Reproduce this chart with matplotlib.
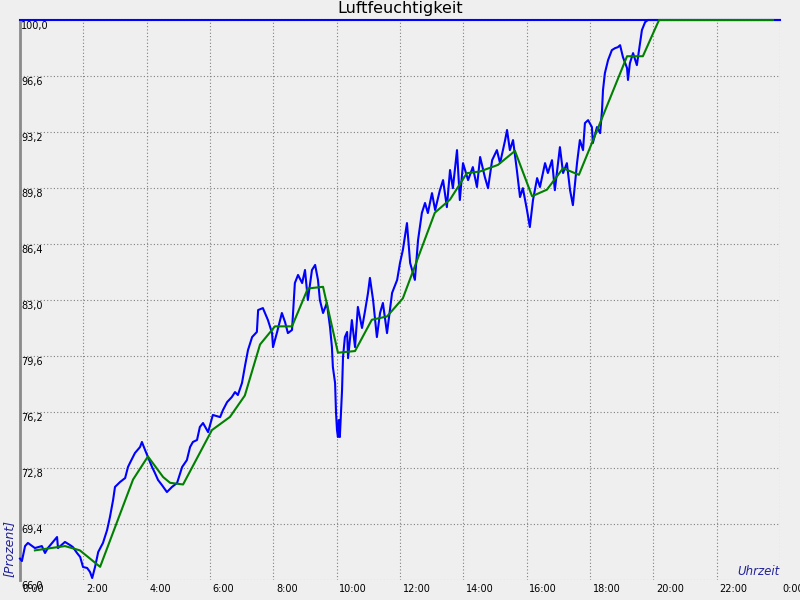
import matplotlib
matplotlib.use('Agg')
import matplotlib.pyplot as plt

# --- Data (hours since midnight, relative humidity in %) ---
blue_t = [0.00, 0.06, 0.16, 0.25, 0.47, 0.69, 0.79, 0.88, 1.17, 1.20, 1.42, 1.58, 1.67, 1.80, 1.90,
          1.99, 2.12, 2.21, 2.28, 2.37, 2.47, 2.62, 2.75, 2.84, 2.94, 3.00, 3.16, 3.32, 3.41, 3.47,
          3.63, 3.79, 3.85, 3.95, 4.04, 4.17, 4.26, 4.36, 4.48, 4.64, 4.80, 4.96, 5.12, 5.27, 5.37,
          5.46, 5.59, 5.68, 5.78, 5.94, 6.09, 6.32, 6.41, 6.54, 6.69, 6.79, 6.88, 7.01, 7.11, 7.20,
          7.33, 7.48, 7.52, 7.67, 7.83, 7.96, 7.99, 8.12, 8.27, 8.37, 8.46, 8.59, 8.68, 8.78, 8.91,
          9.00, 9.09, 9.22, 9.32, 9.41, 9.47, 9.57, 9.69, 9.79, 9.85, 9.88, 9.95, 9.98, 10.01, 10.04,
          10.07, 10.10, 10.17, 10.20, 10.26, 10.33, 10.36, 10.48, 10.58, 10.67, 10.80, 10.89, 10.99,
          11.05, 11.15, 11.27, 11.37, 11.46, 11.59, 11.75, 11.91, 12.00, 12.09, 12.22, 12.32, 12.47,
          12.57, 12.69, 12.79, 12.88, 13.01, 13.11, 13.26, 13.36, 13.48, 13.58, 13.67, 13.80, 13.89,
          13.99, 14.15, 14.30, 14.43, 14.53, 14.68, 14.78, 14.91, 15.06, 15.16, 15.32, 15.38, 15.47,
          15.57, 15.69, 15.79, 15.88, 16.01, 16.10, 16.20, 16.33, 16.42, 16.58, 16.67, 16.80, 16.89,
          17.05, 17.15, 17.27, 17.37, 17.46, 17.59, 17.68, 17.78, 17.84, 17.94, 18.06, 18.09, 18.22,
          18.32, 18.38, 18.41, 18.47, 18.57, 18.69, 18.79, 18.88, 18.95, 19.04, 19.17, 19.20, 19.26,
          19.36, 19.48, 19.58, 19.64, 19.74, 19.83, 23.98]
blue_v = [67.30, 67.15, 68.06, 68.25, 67.94, 68.06, 67.64, 67.94, 68.61, 67.94, 68.31, 68.12, 68.00, 67.64, 67.40,
          66.79, 66.73, 66.49, 66.12, 66.79, 67.70, 68.25, 69.03, 69.82, 70.86, 71.65, 71.95, 72.19, 72.86, 73.10,
          73.71, 74.07, 74.38, 73.89, 73.47, 72.86, 72.50, 72.07, 71.77, 71.34, 71.65, 71.89, 72.86, 73.28, 74.07,
          74.38, 74.50, 75.29, 75.53, 74.98, 76.02, 75.89, 76.32, 76.80, 77.11, 77.41, 77.23, 77.96, 79.05, 79.96,
          80.75, 81.06, 82.39, 82.51, 81.78, 80.99, 80.14, 81.06, 82.21, 81.66, 80.99, 81.18, 84.03, 84.52, 84.03,
          84.82, 83.00, 84.82, 85.13, 84.22, 83.00, 82.21, 82.82, 81.36, 80.14, 78.93, 77.96, 76.14, 75.11, 74.68,
          75.71, 74.68, 77.53, 79.53, 80.75, 81.06, 79.47, 81.78, 80.14, 82.58, 81.30, 82.27, 83.43,
          84.34, 83.00, 80.75, 82.21, 82.82, 80.99, 83.43, 84.22, 85.25, 86.03, 87.67, 85.25, 84.22,
          86.64, 88.28, 88.89, 88.28, 89.49, 88.46, 89.67, 90.28, 88.64, 90.89, 89.79, 92.10, 89.07,
          91.31, 90.28, 91.07, 89.86, 91.68, 90.46, 89.79, 91.49, 92.10, 91.31, 92.71, 93.32, 92.10,
          92.71, 90.89, 89.25, 89.79, 88.46, 87.43, 89.07, 90.40, 89.86, 91.31, 90.71, 91.49, 89.67,
          92.28, 90.71, 91.31, 89.67, 88.76, 91.31, 92.71, 92.10, 93.74, 93.92, 93.50, 92.53, 93.50,
          93.13, 94.53, 95.74, 96.77, 97.56, 98.17, 98.29, 98.35, 98.47, 97.75, 97.08, 96.36, 97.38,
          97.99, 97.26, 98.60, 99.39, 99.87, 100.0, 100.0]

green_t = [0.47, 1.42, 1.89, 2.53, 3.57, 4.04, 4.52, 4.74, 5.15, 6.06, 6.63, 7.10, 7.58, 8.05, 8.59,
           9.09, 9.57, 10.04, 10.58, 11.11, 11.59, 12.09, 13.10, 13.58, 14.11, 14.52, 15.09, 15.63,
           16.17, 16.64, 17.15, 17.65, 18.16, 19.17, 19.67, 20.18, 23.78]
green_v = [67.8, 68.06, 67.8, 66.8, 72.1, 73.5, 72.25, 71.9, 71.8, 75.1, 75.9, 77.2, 80.3, 81.4, 81.4,
           83.7, 83.8, 79.8, 79.9, 81.8, 82.0, 83.1, 88.3, 89.1, 90.7, 90.8, 91.2, 92.05,
           89.3, 89.7, 91.0, 90.6, 93.0, 97.8, 97.8, 100.0, 100.0]

x_ticks = list(range(0, 25, 2))
x_labels = ['0:00', '2:00', '4:00', '6:00', '8:00', '10:00', '12:00', '14:00', '16:00',
            '18:00', '20:00', '22:00', '0:00']
y_ticks = [66.0, 69.4, 72.8, 76.2, 79.6, 83.0, 86.4, 89.8, 93.2, 96.6, 100.0]
y_labels = ['66,0', '69,4', '72,8', '76,2', '79,6', '83,0', '86,4', '89,8', '93,2', '96,6', '100,0']

bg = '#efefef'
label_blue = '#22229a'

fig = plt.figure(figsize=(8, 6), dpi=100, facecolor=bg)
ax = fig.add_axes([20 / 800, 20 / 600, 760 / 800, 560 / 600], facecolor=bg)

ax.plot(blue_t, blue_v, color='#0000ff', linewidth=1.5, clip_on=False, zorder=3)
ax.plot(green_t, green_v, color='#008000', linewidth=1.5, clip_on=False, zorder=4)

ax.set_xlim(0, 24)
ax.set_ylim(66, 100)

ax.set_xticks(x_ticks)
ax.set_xticklabels(x_labels, ha='left', fontsize=7)
ax.set_yticks(y_ticks)
ax.set_yticklabels(y_labels, ha='left', va='top', fontsize=7)
ax.tick_params(axis='x', length=0, pad=3)
ax.tick_params(axis='y', length=0, pad=-1)
for lbl in ax.get_xticklabels():
    lbl.set_x(lbl.get_position()[0])
    lbl.set_transform(lbl.get_transform() + matplotlib.transforms.ScaledTranslation(2 / 72, 0, fig.dpi_scale_trans))
for lbl in ax.get_yticklabels():
    lbl.set_transform(lbl.get_transform() + matplotlib.transforms.ScaledTranslation(0, -1 / 72, fig.dpi_scale_trans))

ax.grid(True, color='#808080', linestyle=(0, (1, 2)), linewidth=0.8, zorder=1)
ax.set_axisbelow(True)

ax.spines['right'].set_visible(False)
ax.spines['bottom'].set_visible(False)
ax.spines['left'].set_color('#8a8a8a')
ax.spines['left'].set_linewidth(2)
ax.spines['top'].set_color('#0000ff')
ax.spines['top'].set_linewidth(1.5)

fig.text(0.5, 1 - 8 / 600, 'Luftfeuchtigkeit', ha='center', va='center', fontsize=11.5)
ax.text(1.0, 0.004, 'Uhrzeit', transform=ax.transAxes, ha='right', va='bottom',
        fontsize=8.5, style='italic', color=label_blue)
fig.text(9 / 800, 23 / 600, '[Prozent]', rotation=90, ha='center', va='bottom',
         fontsize=9, style='italic', color=label_blue)

fig.savefig('out.png', dpi=100, facecolor=bg)
